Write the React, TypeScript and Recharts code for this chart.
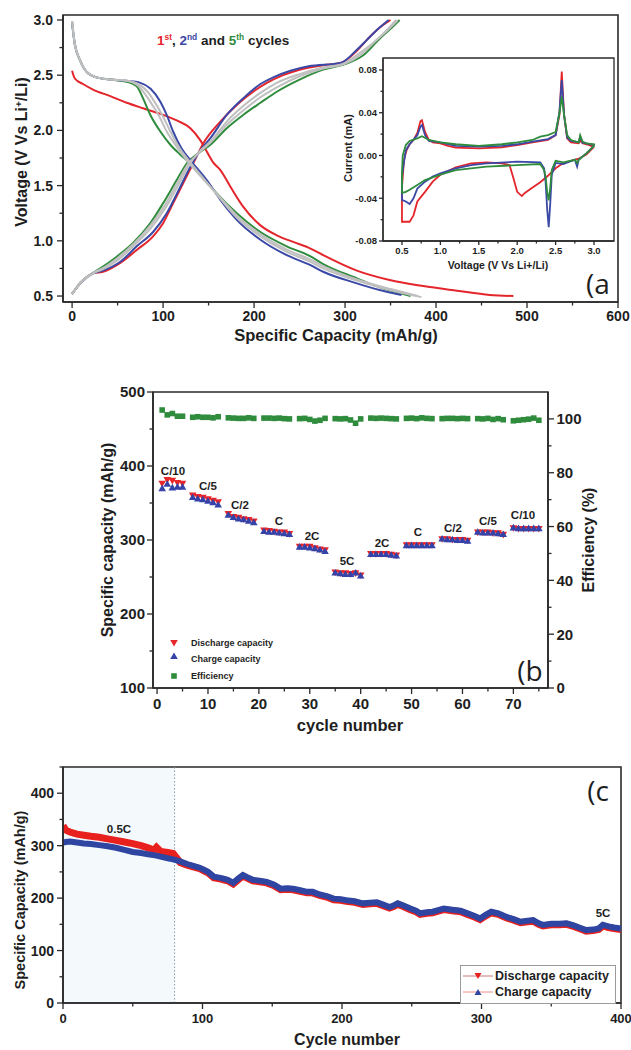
import React from 'react'
import {
  LineChart, Line, ComposedChart, XAxis, YAxis, ReferenceArea, ReferenceLine,
} from 'recharts'

const FONT = '"Liberation Sans", Arial, sans-serif'
const AXIS = '#2a2a2a'
const RED = '#e4262c'
const BLUE = '#3a48a6'
const GREEN = '#2f8c3c'
const GRAY = '#bfbfbf'

// (a) galvanostatic profiles: capacity (mAh/g) / voltage (V)
const capRedDis = [0, 1, 3, 12, 23, 42, 60, 78, 97, 115, 130, 141, 148, 155, 163, 174, 188, 207, 225, 243, 262, 276, 313, 349, 386, 423, 459, 485]
const vRedDis = [2.54, 2.51, 2.47, 2.42, 2.37, 2.31, 2.25, 2.2, 2.15, 2.09, 2.02, 1.91, 1.81, 1.71, 1.64, 1.49, 1.31, 1.14, 1.05, 0.99, 0.93, 0.87, 0.73, 0.645, 0.59, 0.548, 0.51, 0.5]
const capBlueDis = [0, 1, 3, 9, 16, 27, 42, 60, 75, 86, 97, 104, 111, 120, 131, 148, 163, 181, 207, 236, 262, 276, 313, 338, 362]
const vBlueDis = [2.98, 2.9, 2.78, 2.63, 2.53, 2.48, 2.46, 2.45, 2.43, 2.38, 2.26, 2.14, 1.99, 1.84, 1.72, 1.55, 1.37, 1.19, 1.01, 0.87, 0.78, 0.72, 0.615, 0.554, 0.51]
const capGreenDis = [0, 1, 3, 9, 16, 27, 42, 60, 71, 78, 86, 97, 108, 119, 130, 141, 159, 181, 207, 236, 262, 276, 313, 331, 350, 372]
const vGreenDis = [2.98, 2.9, 2.78, 2.63, 2.53, 2.48, 2.46, 2.44, 2.4, 2.29, 2.14, 1.99, 1.87, 1.78, 1.7, 1.6, 1.43, 1.25, 1.08, 0.95, 0.86, 0.79, 0.66, 0.6, 0.55, 0.5]
const capGray3Dis = [0, 1, 3, 9, 16, 27, 42, 60, 73, 83, 92, 99, 108, 118, 129, 146, 163, 181, 207, 236, 262, 276, 313, 338, 362, 384]
const vGray3Dis = [2.99, 2.91, 2.78, 2.63, 2.53, 2.48, 2.46, 2.45, 2.42, 2.35, 2.24, 2.14, 1.99, 1.84, 1.72, 1.55, 1.38, 1.21, 1.04, 0.9, 0.81, 0.75, 0.64, 0.58, 0.53, 0.49]
const capGray4Dis = [0, 1, 3, 9, 16, 27, 42, 60, 72, 80, 89, 95, 104, 116, 127, 144, 162, 181, 207, 236, 262, 276, 313, 338, 362, 380]
const vGray4Dis = [2.99, 2.91, 2.78, 2.63, 2.53, 2.48, 2.46, 2.45, 2.41, 2.33, 2.22, 2.14, 1.99, 1.84, 1.72, 1.56, 1.4, 1.23, 1.06, 0.92, 0.83, 0.77, 0.65, 0.59, 0.54, 0.5]

const capRedCh = [0, 9, 23, 34, 53, 71, 89, 100, 111, 122, 133, 144, 163, 181, 199, 214, 232, 250, 276, 295, 313, 324, 335, 350]
const vRedCh = [0.52, 0.615, 0.705, 0.72, 0.8, 0.917, 1.04, 1.16, 1.34, 1.52, 1.7, 1.88, 2.08, 2.23, 2.35, 2.43, 2.5, 2.55, 2.59, 2.61, 2.72, 2.82, 2.91, 3.0]
const capBlueCh = [0, 9, 23, 34, 53, 71, 89, 104, 119, 130, 141, 152, 170, 188, 207, 221, 240, 260, 295, 313, 324, 335, 348]
const vBlueCh = [0.52, 0.615, 0.705, 0.73, 0.81, 0.95, 1.08, 1.25, 1.49, 1.67, 1.82, 1.93, 2.14, 2.29, 2.42, 2.48, 2.54, 2.58, 2.61, 2.73, 2.82, 2.91, 3.0]
const capGreenCh = [0, 9, 23, 31, 49, 67, 86, 100, 115, 126, 140, 152, 170, 188, 207, 225, 250, 276, 300, 320, 338, 350, 360]
const vGreenCh = [0.52, 0.62, 0.71, 0.75, 0.856, 0.98, 1.16, 1.34, 1.55, 1.7, 1.8, 1.87, 2.02, 2.14, 2.25, 2.35, 2.46, 2.55, 2.6, 2.68, 2.83, 2.92, 3.0]
const capGray3Ch = [0, 9, 23, 33, 51, 69, 87, 102, 117, 128, 140, 152, 170, 188, 207, 225, 250, 276, 298, 316, 332, 345, 356]
const vGray3Ch = [0.52, 0.615, 0.705, 0.74, 0.83, 0.965, 1.12, 1.29, 1.51, 1.68, 1.81, 1.9, 2.08, 2.22, 2.34, 2.43, 2.51, 2.57, 2.605, 2.7, 2.8, 2.9, 3.0]
const capGray4Ch = [0, 9, 23, 32, 50, 68, 86, 101, 116, 127, 140, 152, 170, 188, 207, 225, 250, 276, 299, 318, 335, 347, 358]
const vGray4Ch = [0.52, 0.62, 0.71, 0.745, 0.845, 0.975, 1.14, 1.31, 1.53, 1.69, 1.8, 1.89, 2.05, 2.18, 2.3, 2.39, 2.49, 2.56, 2.6, 2.69, 2.82, 2.91, 3.0]

// (a) inset: cyclic voltammograms, voltage (V) / current (mA)
const cvRedV = [3.0, 2.9, 2.8, 2.7, 2.6, 2.5, 2.4, 2.3, 2.2, 2.1, 2.06, 2.0, 1.95, 1.9, 1.8, 1.6, 1.4, 1.2, 1.0, 0.9, 0.8, 0.7, 0.65, 0.6, 0.55, 0.5, 0.5, 0.52, 0.53, 0.56, 0.6, 0.65, 0.7, 0.74, 0.76, 0.8, 0.85, 0.9, 1.0, 1.1, 1.2, 1.5, 1.8, 2.0, 2.2, 2.4, 2.5, 2.55, 2.58, 2.61, 2.65, 2.7, 2.8, 2.82, 2.85, 2.9, 3.0, 3.0]
const cvRedI = [0.008, 0.001, -0.003, -0.005, -0.007, -0.012, -0.019, -0.025, -0.03, -0.035, -0.038, -0.034, -0.021, -0.009, -0.0073, -0.0064, -0.0073, -0.011, -0.018, -0.0245, -0.034, -0.043, -0.056, -0.062, -0.062, -0.062, -0.03, -0.01, -0.003, 0.005, 0.0105, 0.0145, 0.021, 0.032, 0.033, 0.022, 0.0145, 0.0123, 0.0114, 0.009, 0.0073, 0.0067, 0.0076, 0.0098, 0.0123, 0.0145, 0.019, 0.038, 0.0785, 0.038, 0.016, 0.0123, 0.0114, 0.014, 0.0115, 0.0105, 0.008, 0.008]
const cvBlueV = [3.0, 2.9, 2.8, 2.78, 2.75, 2.6, 2.5, 2.45, 2.43, 2.41, 2.39, 2.37, 2.35, 2.3, 2.0, 1.6, 1.4, 1.2, 1.0, 0.9, 0.8, 0.7, 0.65, 0.6, 0.55, 0.5, 0.5, 0.52, 0.55, 0.6, 0.7, 0.74, 0.76, 0.8, 0.85, 1.0, 1.2, 1.5, 1.8, 2.0, 2.2, 2.4, 2.5, 2.55, 2.58, 2.61, 2.65, 2.7, 2.8, 2.82, 2.85, 2.9, 3.0, 3.0]
const cvBlueI = [0.009, 0.002, -0.004, -0.0105, -0.004, -0.008, -0.007, -0.018, -0.045, -0.067, -0.05, -0.025, -0.012, -0.0064, -0.0058, -0.0073, -0.009, -0.012, -0.0167, -0.0198, -0.0245, -0.031, -0.04, -0.0454, -0.043, -0.0416, -0.02, -0.009, 0.005, 0.0105, 0.019, 0.027, 0.0285, 0.019, 0.0136, 0.0123, 0.009, 0.0083, 0.009, 0.0105, 0.013, 0.0154, 0.019, 0.041, 0.0706, 0.038, 0.0167, 0.0136, 0.0123, 0.0176, 0.012, 0.0114, 0.0098, 0.009]
const cvGreenV = [3.0, 2.9, 2.8, 2.78, 2.75, 2.6, 2.5, 2.45, 2.43, 2.41, 2.39, 2.37, 2.35, 2.3, 2.0, 1.6, 1.2, 1.0, 0.8, 0.7, 0.6, 0.55, 0.5, 0.5, 0.51, 0.55, 0.6, 0.7, 0.76, 0.85, 1.0, 1.2, 1.5, 1.8, 2.0, 2.2, 2.3, 2.4, 2.5, 2.55, 2.58, 2.61, 2.65, 2.7, 2.8, 2.82, 2.85, 2.9, 3.0, 3.0]
const cvGreenI = [0.009, 0.002, -0.004, -0.007, -0.004, -0.0064, -0.005, -0.0136, -0.03, -0.042, -0.034, -0.02, -0.0136, -0.008, -0.009, -0.0105, -0.0136, -0.018, -0.023, -0.0276, -0.032, -0.034, -0.035, -0.015, 0.0, 0.0098, 0.0136, 0.016, 0.018, 0.0145, 0.0123, 0.0105, 0.009, 0.0105, 0.0123, 0.0145, 0.0176, 0.019, 0.022, 0.0395, 0.055, 0.038, 0.019, 0.0145, 0.0123, 0.019, 0.013, 0.0114, 0.0105, 0.009]

// (b) rate capability
const cyclesB = [1, 2, 3, 4, 5, 7, 8, 9, 10, 11, 12, 14, 15, 16, 17, 18, 19, 21, 22, 23, 24, 25, 26, 28, 29, 30, 31, 32, 33, 35, 36, 37, 38, 39, 40, 42, 43, 44, 45, 46, 47, 49, 50, 51, 52, 53, 54, 56, 57, 58, 59, 60, 61, 63, 64, 65, 66, 67, 68, 70, 71, 72, 73, 74, 75]
const dischargeB = [376, 381, 380, 377, 376, 360, 358, 357, 355, 353, 351, 335, 331, 330, 328, 327, 325, 313, 312, 311, 310, 310, 308, 291, 291, 291, 289, 287, 286, 256, 255, 255, 254, 255, 252, 281, 281, 281, 281, 280, 279, 293, 293, 293, 293, 293, 293, 301, 301, 300, 300, 300, 299, 310, 310, 310, 309, 309, 307, 316, 315, 315, 315, 315, 315]
const chargeB = [370, 376, 371, 372, 372, 358, 356, 355, 353, 351, 348, 334, 331, 329, 328, 326, 324, 312, 311, 311, 310, 309, 308, 291, 291, 290, 289, 287, 285, 256, 255, 254, 254, 256, 252, 281, 281, 281, 281, 280, 279, 293, 293, 293, 293, 293, 293, 302, 301, 301, 300, 300, 299, 311, 310, 310, 310, 309, 308, 317, 316, 316, 316, 316, 316]
const efficiencyB = [103.3, 101.5, 102, 101, 101, 100.6, 100.8, 100.6, 100.6, 100.4, 100.8, 100.4, 100.3, 100.2, 100.2, 100.4, 100.2, 100.3, 100.3, 100.2, 100.3, 100.1, 100, 100.1, 100.2, 99.8, 99.2, 99.5, 100.2, 100.1, 100, 100.1, 99.6, 98.4, 100, 100.3, 100.2, 100.3, 100.2, 100.1, 100, 100.2, 100.3, 100.1, 100.4, 100.2, 100.1, 100.1, 100.2, 100.2, 100.1, 100.2, 100.1, 100.1, 100, 100.2, 99.8, 100.1, 99.7, 99.3, 99.5, 99.7, 99.9, 100.3, 99.5]
const rateLabels = ['C/10', 'C/5', 'C/2', 'C', '2C', '5C', '2C', 'C', 'C/2', 'C/5', 'C/10']

// (c) long cycling at 0.5C then 5C
const cyclesC = [0, 2, 5, 10, 15, 20, 26, 32, 38, 44, 50, 56, 62, 65, 67, 70, 75, 79, 84, 89, 94, 98, 101, 104, 108, 112, 115, 118, 122, 126, 129, 132, 136, 141, 146, 151, 156, 161, 165, 170, 175, 179, 184, 189, 194, 199, 203, 209, 215, 220, 225, 230, 234, 237, 240, 244, 249, 253, 256, 261, 265, 269, 273, 279, 285, 290, 295, 299, 303, 307, 312, 318, 323, 328, 333, 337, 341, 344, 350, 356, 361, 366, 371, 375, 380, 384, 387, 391, 395, 400]
const chargeC = [306, 307, 308, 306, 304, 303, 301, 299, 296, 292, 288, 286, 283, 282, 281, 279, 276, 274, 270, 265, 261, 258, 254, 250, 241, 239, 237, 235, 229, 238, 244, 240, 235, 233, 231, 226, 218, 219, 218, 215, 212, 212, 207, 204, 199, 198, 196, 194, 190, 191, 192, 187, 183, 186, 190, 186, 180, 176, 171, 173, 174, 177, 180, 178, 176, 171, 166, 161, 168, 174, 171, 164, 160, 155, 157, 158, 152, 149, 151, 151, 152, 148, 143, 139, 140, 142, 149, 146, 144, 142]
const dischargeC = [338, 330, 326, 322, 320, 318, 316, 313, 310, 307, 304, 300, 295, 291, 297, 289, 287, 285, 268, 263, 259, 256, 252, 248, 239, 237, 235, 233, 227, 236, 242, 238, 233, 231, 229, 224, 216, 217, 216, 213, 210, 210, 205, 202, 197, 196, 194, 192, 188, 189, 190, 185, 181, 184, 188, 184, 178, 174, 169, 171, 172, 175, 178, 176, 174, 169, 164, 159, 166, 172, 169, 162, 158, 153, 155, 156, 150, 147, 149, 149, 150, 146, 141, 137, 138, 140, 147, 144, 142, 140]

const toXY = (xs: number[], ys: number[]) => xs.map((x, i) => ({ x, v: ys[i] }))

const profiles = [
  { id: 'r-dis', data: toXY(capRedDis, vRedDis), color: RED },
  { id: 'r-ch', data: toXY(capRedCh, vRedCh), color: RED },
  { id: 'g-dis', data: toXY(capGreenDis, vGreenDis), color: GREEN },
  { id: 'g-ch', data: toXY(capGreenCh, vGreenCh), color: GREEN },
  { id: 'b-dis', data: toXY(capBlueDis, vBlueDis), color: BLUE },
  { id: 'b-ch', data: toXY(capBlueCh, vBlueCh), color: BLUE },
  { id: 'c3-dis', data: toXY(capGray3Dis, vGray3Dis), color: GRAY },
  { id: 'c3-ch', data: toXY(capGray3Ch, vGray3Ch), color: GRAY },
  { id: 'c4-dis', data: toXY(capGray4Dis, vGray4Dis), color: GRAY },
  { id: 'c4-ch', data: toXY(capGray4Ch, vGray4Ch), color: GRAY },
]
const cvCurves = [
  { id: 'cv1', data: toXY(cvRedV, cvRedI), color: RED },
  { id: 'cv2', data: toXY(cvBlueV, cvBlueI), color: BLUE },
  { id: 'cv5', data: toXY(cvGreenV, cvGreenI), color: GREEN },
]
const rowsB = cyclesB.map((c, i) => ({ cycle: c, dis: dischargeB[i], ch: chargeB[i], eff: efficiencyB[i] }))
const rowsC = cyclesC.map((c, i) => ({ cycle: c, dis: dischargeC[i], ch: chargeC[i] }))

// ticks with short minor marks; labels only on majors
type Side = 'bottom' | 'left' | 'right'
function tickMaker(side: Side, step: number, size: number, fmt: (v: number) => string, major = 6, minor = 3.5, gap = 4) {
  return (p: any) => {
    const v = Number(p.payload.value)
    const isMajor = Math.abs(v / step - Math.round(v / step)) < 1e-6
    const len = isMajor ? major : minor
    const x = p.x, y = p.y
    const label = isMajor ? fmt(v) : ''
    const t = { fontSize: size, fontWeight: 700, fontFamily: FONT, fill: '#1e1e1e' }
    if (side === 'bottom') return (
      <g>
        <line x1={x} y1={y} x2={x} y2={y + len} stroke={AXIS} strokeWidth={1.3} />
        {label && <text x={x} y={y + major + gap + size * 0.72} textAnchor="middle" {...t}>{label}</text>}
      </g>
    )
    const dir = side === 'left' ? -1 : 1
    return (
      <g>
        <line x1={x} y1={y} x2={x + dir * len} y2={y} stroke={AXIS} strokeWidth={1.3} />
        {label && <text x={x + dir * (major + gap)} y={y + size * 0.36} textAnchor={side === 'left' ? 'end' : 'start'} {...t}>{label}</text>}
      </g>
    )
  }
}

const downTri = (color: string) => (p: any) => (
  <path key={p.index} d={`M${p.cx - 3.8},${p.cy - 3} L${p.cx + 3.8},${p.cy - 3} L${p.cx},${p.cy + 3.6} Z`} fill={color} />
)
const upTri = (color: string) => (p: any) => (
  <path key={p.index} d={`M${p.cx},${p.cy - 3.6} L${p.cx - 3.8},${p.cy + 3} L${p.cx + 3.8},${p.cy + 3} Z`} fill={color} />
)
const square = (color: string) => (p: any) => (
  <rect key={p.index} x={p.cx - 2.8} y={p.cy - 2.8} width={5.6} height={5.6} fill={color} />
)

function Txt({ x, y, children, size = 14, rot = 0, weight = 700, family = FONT, left = false }: any) {
  return (
    <div style={{
      position: 'absolute', left: x, top: y, whiteSpace: 'nowrap', lineHeight: 1,
      transform: `translate(${left ? '0' : '-50%'}, -50%) rotate(${rot}deg)`,
      fontSize: size, fontWeight: weight, fontFamily: family, color: '#1e1e1e',
    }}>{children}</div>
  )
}

const sup = (s: string, color = '#1e1e1e') => (
  <span style={{ fontSize: '0.62em', verticalAlign: '0.55em', color }}>{s}</span>
)

const fmt1 = (v: number) => v.toFixed(1)
const fmt2 = (v: number) => v.toFixed(2)
const fmt0 = (v: number) => String(v)

function PanelA() {
  return (
    <div style={{ position: 'absolute', left: 0, top: 0 }}>
      <LineChart width={631} height={345} margin={{ top: 15, right: 13, bottom: 0, left: 0 }}>
        <XAxis type="number" dataKey="x" domain={[-10, 600]} allowDataOverflow height={43}
          ticks={[0, 50, 100, 150, 200, 250, 300, 350, 400, 450, 500, 550, 600]} interval={0}
          tickLine={false} tickSize={0} tickMargin={0} stroke={AXIS} strokeWidth={1.6}
          tick={tickMaker('bottom', 100, 14, fmt0, 6, 3.5, 2.5)} />
        <YAxis type="number" domain={[0.446, 3.045]} allowDataOverflow width={63}
          ticks={[0.5, 0.75, 1.0, 1.25, 1.5, 1.75, 2.0, 2.25, 2.5, 2.75, 3.0]} interval={0}
          tickLine={false} tickSize={0} tickMargin={0} stroke={AXIS} strokeWidth={1.6}
          tick={tickMaker('left', 0.5, 14, fmt1)} />
        <ReferenceArea x1={-10} x2={600} y1={0.446} y2={3.045} fill="none" stroke={AXIS} strokeWidth={1.6} />
        {profiles.map(c => (
          <Line key={c.id} data={c.data} dataKey="v" type="monotone" stroke={c.color} strokeWidth={2}
            dot={false} activeDot={false} isAnimationActive={false} />
        ))}
      </LineChart>
      <div style={{ position: 'absolute', left: 320, top: 50 }}>
        <LineChart width={295} height={225} margin={{ top: 8, right: 1, bottom: 0, left: 0 }}>
          <XAxis type="number" dataKey="x" domain={[0.253, 3.26]} allowDataOverflow height={34}
            ticks={[0.5, 0.75, 1.0, 1.25, 1.5, 1.75, 2.0, 2.25, 2.5, 2.75, 3.0]} interval={0}
            tickLine={false} tickSize={0} tickMargin={0} stroke={AXIS} strokeWidth={1.3}
            tick={tickMaker('bottom', 0.5, 9.5, fmt1, 4, 2.5, 2)} />
          <YAxis type="number" domain={[-0.08, 0.0912]} allowDataOverflow width={63}
            ticks={[-0.08, -0.06, -0.04, -0.02, 0, 0.02, 0.04, 0.06, 0.08]} interval={0}
            tickLine={false} tickSize={0} tickMargin={0} stroke={AXIS} strokeWidth={1.3}
            tick={tickMaker('left', 0.04, 9.5, fmt2, 4, 2.5, 2)} />
          <ReferenceArea x1={0.253} x2={3.26} y1={-0.08} y2={0.0912} fill="#fff" stroke={AXIS} strokeWidth={1.3} />
          {cvCurves.map(c => (
            <Line key={c.id} data={c.data} dataKey="v" type="linear" stroke={c.color} strokeWidth={1.8}
              dot={false} activeDot={false} isAnimationActive={false} />
          ))}
        </LineChart>
      </div>
      <Txt x={22} y={152} rot={-90} size={16}>Voltage (V Vs Li{sup('+')}/Li)</Txt>
      <Txt x={336} y={335} size={16.5}>Specific Capacity (mAh/g)</Txt>
      <Txt x={157} y={40} size={13.5} left>
        <span style={{ color: RED }}>1</span>{sup('st', RED)}, <span style={{ color: BLUE }}>2</span>{sup('nd', BLUE)} and <span style={{ color: GREEN }}>5</span>{sup('th', GREEN)} cycles
      </Txt>
      <Txt x={348} y={148} rot={-90} size={11}>Current (mA)</Txt>
      <Txt x={498} y={265} size={10.5}>Voltage (V Vs Li+/Li)</Txt>
      <Txt x={598} y={283} size={28} weight={400} family='"Open Sans", sans-serif'>(a</Txt>
    </div>
  )
}

const rateLabelPos = [[173, 472], [208, 487], [240, 506], [279, 522], [312, 537], [347, 562], [382, 544], [418, 533], [453, 529], [488, 522], [523, 516]]

function PanelB() {
  return (
    <div style={{ position: 'absolute', left: 0, top: 350 }}>
      <ComposedChart width={631} height={400} data={rowsB} margin={{ top: 42, right: 0, bottom: 0, left: 0 }}>
        <XAxis type="number" dataKey="cycle" domain={[-0.8, 76.8]} allowDataOverflow height={62}
          ticks={[0, 5, 10, 15, 20, 25, 30, 35, 40, 45, 50, 55, 60, 65, 70, 75]} interval={0}
          tickLine={false} tickSize={0} tickMargin={0} stroke={AXIS} strokeWidth={1.6}
          tick={tickMaker('bottom', 10, 15, fmt0, 6, 3.5, 4)} />
        <YAxis yAxisId="left" type="number" domain={[100, 500]} allowDataOverflow width={153}
          ticks={[100, 150, 200, 250, 300, 350, 400, 450, 500]} interval={0}
          tickLine={false} tickSize={0} tickMargin={0} stroke={AXIS} strokeWidth={1.6}
          tick={tickMaker('left', 100, 15, fmt0, 6, 3.5, 2)} />
        <YAxis yAxisId="right" orientation="right" type="number" domain={[0, 110]} allowDataOverflow width={83}
          ticks={[0, 10, 20, 30, 40, 50, 60, 70, 80, 90, 100]} interval={0}
          tickLine={false} tickSize={0} tickMargin={0} stroke={AXIS} strokeWidth={1.6}
          tick={tickMaker('right', 20, 15, fmt0, 6, 3.5, 2.5)} />
        <ReferenceArea yAxisId="left" x1={-0.8} x2={76.8} y1={100} y2={500} fill="none" stroke={AXIS} strokeWidth={1.6} />
        <Line yAxisId="right" dataKey="eff" stroke="none" dot={square(GREEN)} activeDot={false} isAnimationActive={false} />
        <Line yAxisId="left" dataKey="dis" stroke="none" dot={downTri('#e8262a')} activeDot={false} isAnimationActive={false} />
        <Line yAxisId="left" dataKey="ch" stroke="none" dot={upTri('#3543a8')} activeDot={false} isAnimationActive={false} />
      </ComposedChart>
      {rateLabels.map((t, i) => (
        <Txt key={i} x={rateLabelPos[i][0]} y={rateLabelPos[i][1] - 350} size={11.5}>{t}</Txt>
      ))}
      <Txt x={108} y={190} rot={-90} size={16}>Specific capacity (mAh/g)</Txt>
      <Txt x={589} y={190} rot={-90} size={16}>Efficiency (%)</Txt>
      <Txt x={350} y={375} size={16.5}>cycle number</Txt>
      <Txt x={530} y={320} size={28} weight={400} family='"Open Sans", sans-serif'>(b</Txt>
      <svg style={{ position: 'absolute', left: 166, top: 285 }} width={16} height={50}>
        <path d="M4.2,5 L11.8,5 L8,11.6 Z" fill="#e8262a" />
        <path d="M8,17.4 L4.2,24 L11.8,24 Z" fill="#3543a8" />
        <rect x={5.2} y={38.2} width={5.6} height={5.6} fill={GREEN} />
      </svg>
      <Txt x={191} y={293} size={9} left>Discharge capacity</Txt>
      <Txt x={191} y={309} size={9} left>Charge capacity</Txt>
      <Txt x={191} y={326} size={9} left>Efficiency</Txt>
    </div>
  )
}

function PanelC() {
  return (
    <div style={{ position: 'absolute', left: 0, top: 750 }}>
      <LineChart width={631} height={300} data={rowsC} margin={{ top: 17, right: 10, bottom: 0, left: 0 }}>
        <XAxis type="number" dataKey="cycle" domain={[0, 400]} allowDataOverflow height={47}
          ticks={[0, 50, 100, 150, 200, 250, 300, 350, 400]} interval={0}
          tickLine={false} tickSize={0} tickMargin={0} stroke={AXIS} strokeWidth={1.6}
          tick={tickMaker('bottom', 100, 13, fmt0, 6, 3.5, 5)} />
        <YAxis type="number" domain={[0, 450]} allowDataOverflow width={63}
          ticks={[0, 50, 100, 150, 200, 250, 300, 350, 400, 450]} interval={0}
          tickLine={false} tickSize={0} tickMargin={0} stroke={AXIS} strokeWidth={1.6}
          tick={tickMaker('left', 100, 14, fmt0, 6, 3.5, 3)} />
        <ReferenceArea x1={0} x2={80} y1={0} y2={450} fill="#e9f4f8" stroke="none" />
        <ReferenceLine x={80} stroke="#8a9aa8" strokeDasharray="1.5 2" strokeWidth={1} />
        <Line dataKey="dis" type="linear" stroke="#e8201e" strokeWidth={7} dot={false} activeDot={false} isAnimationActive={false} />
        <Line dataKey="ch" type="linear" stroke="#2f45a2" strokeWidth={6} dot={false} activeDot={false} isAnimationActive={false} />
        <ReferenceArea x1={0} x2={400} y1={0} y2={450} fill="none" stroke={AXIS} strokeWidth={1.6} />
      </LineChart>
      <Txt x={20} y={150} rot={-90} size={14.5}>Specific Capacity (mAh/g)</Txt>
      <Txt x={347} y={290} size={16}>Cycle number</Txt>
      <Txt x={119} y={80} size={11.5}>0.5C</Txt>
      <Txt x={603} y={164} size={11.5}>5C</Txt>
      <Txt x={598} y={40} size={28} weight={400} family='"Open Sans", sans-serif'>(c</Txt>
      <div style={{ position: 'absolute', left: 460, top: 215, width: 154, height: 37, border: '1px solid #9a9a9a', background: '#fff' }}>
        <svg style={{ position: 'absolute', left: 0, top: 0 }} width={36} height={37}>
          <line x1={2} y1={10} x2={32} y2={10} stroke="#c77" strokeWidth={1} />
          <path d="M13.5,7 L20.5,7 L17,13 Z" fill="#e8201e" />
          <line x1={2} y1={26} x2={32} y2={26} stroke="#f08a8a" strokeWidth={1} />
          <path d="M17,23 L13.5,29 L20.5,29 Z" fill="#2f45a2" />
        </svg>
        <Txt x={34} y={10} size={12.5} left>Discharge capacity</Txt>
        <Txt x={34} y={26} size={12.5} left>Charge capacity</Txt>
      </div>
    </div>
  )
}

export default function App() {
  return (
    <div style={{ position: 'absolute', left: 0, top: 0, width: 631, height: 1050, background: '#fff', overflow: 'hidden' }}>
      <PanelA />
      <PanelB />
      <PanelC />
    </div>
  )
}
